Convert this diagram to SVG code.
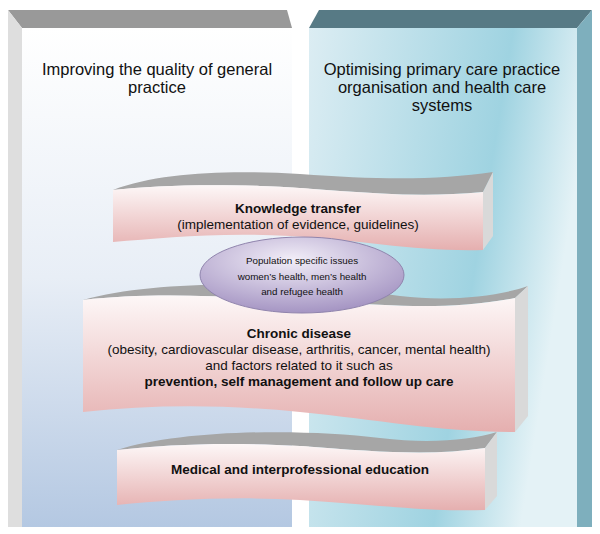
<svg xmlns="http://www.w3.org/2000/svg" width="600" height="534" viewBox="0 0 600 534">
<defs>
<linearGradient id="gl" x1="0" y1="0" x2="0" y2="1"><stop offset="0" stop-color="#ffffff"/><stop offset="0.5" stop-color="#e8eef6"/><stop offset="1" stop-color="#b4c8e2"/></linearGradient>
<linearGradient id="gr" x1="0" y1="0" x2="1" y2="0.3"><stop offset="0" stop-color="#dcedf3"/><stop offset="0.7" stop-color="#9fd3e1"/><stop offset="1" stop-color="#e4f2f6"/></linearGradient>
<linearGradient id="gp" x1="0" y1="0" x2="0" y2="1"><stop offset="0" stop-color="#fdf7f7"/><stop offset="1" stop-color="#e5afaf"/></linearGradient>
<radialGradient id="ge" cx="0.45" cy="0.3" r="0.7"><stop offset="0" stop-color="#f2eef8"/><stop offset="1" stop-color="#a595c3"/></radialGradient>
<style>
.t{font-family:"Liberation Sans",Arial,sans-serif;fill:#111;text-anchor:middle}
.ttl{font-size:16.5px}.b{font-size:13.5px}.bb{font-size:13.5px;font-weight:bold}.s{font-size:9.8px}
.gray{fill:#a6a6a6}.side{fill:#d9d9d9}.front{fill:url(#gp)}
</style>
</defs>
<rect width="600" height="534" fill="#fff"/>
<g id="left-box">
<polygon points="8,10 287,10 292,28 22,28" fill="#999"/>
<polygon points="8,10 22,28 22,527 8,527" fill="#dedede"/>
<rect x="22" y="28" width="270" height="499" fill="url(#gl)"/>
<text class="t ttl" x="157" y="75">Improving the quality of general</text>
<text class="t ttl" x="157" y="93">practice</text>
</g>
<g id="right-box">
<polygon points="319,10 592,10 577,28 309,28" fill="#577a85"/>
<polygon points="577,28 592,10 592,527 577,527" fill="#7eafbd"/>
<rect x="309" y="28" width="268" height="499" fill="url(#gr)"/>
<text class="t ttl" x="442" y="75">Optimising primary care practice</text>
<text class="t ttl" x="442" y="93">organisation and health care</text>
<text class="t ttl" x="442" y="111">systems</text>
</g>
<g id="connectors"></g>
<g id="knowledge">
<path class="gray" d="M113,190 C160,172 230,170 300,174 C380,180 440,180 493,172 L483,192 C400,200 330,188 260,186 C200,184 150,186 113,190 Z"/>
<path class="side" d="M483,192 L493,172 L493,236 L483,250 Z"/>
<path class="front" d="M113,190 C150,186 200,184 260,186 C330,188 400,200 483,192 L483,250 C420,252 360,240 290,236 C220,232 160,238 113,242 Z"/>
<text class="t bb" x="298" y="213">Knowledge transfer</text>
<text class="t b" x="298" y="229">(implementation of evidence, guidelines)</text>
</g>
<g id="chronic">
<path class="gray" d="M83,300 C160,278 300,282 400,296 C450,302 500,296 528,286 L515,298 C450,310 400,306 330,302 C230,296 150,292 83,300 Z"/>
<path class="side" d="M515,298 L528,286 L528,416 L515,432 Z"/>
<path class="front" d="M83,300 C150,292 230,296 330,302 C400,306 450,310 515,298 L515,432 C440,432 380,420 300,412 C220,404 150,405 83,412 Z"/>
<text class="t bb" x="299" y="338">Chronic disease</text>
<text class="t b" x="299" y="354">(obesity, cardiovascular disease, arthritis, cancer, mental health)</text>
<text class="t b" x="299" y="370">and factors related to it such as</text>
<text class="t bb" x="299" y="386">prevention, self management and follow up care</text>
</g>
<g id="population">
<ellipse cx="302" cy="275" rx="102" ry="38" fill="url(#ge)" stroke="#9084ad" stroke-width="1"/>
<text class="t s" x="302" y="264">Population specific issues</text>
<text class="t s" x="302" y="280">women’s health, men’s health</text>
<text class="t s" x="302" y="295">and refugee health</text>
</g>
<g id="medical">
<path class="gray" d="M117,450 C180,430 300,428 380,438 C430,444 470,440 497,432 L485,448 C430,456 380,452 300,446 C230,442 170,444 117,450 Z"/>
<path class="side" d="M485,448 L497,432 L497,496 L485,510 Z"/>
<path class="front" d="M117,450 C170,444 230,442 300,446 C380,452 430,456 485,448 L485,510 C430,512 380,505 300,500 C230,496 170,500 117,505 Z"/>
<text class="t bb" x="300" y="474">Medical and interprofessional education</text>
</g>
</svg>
